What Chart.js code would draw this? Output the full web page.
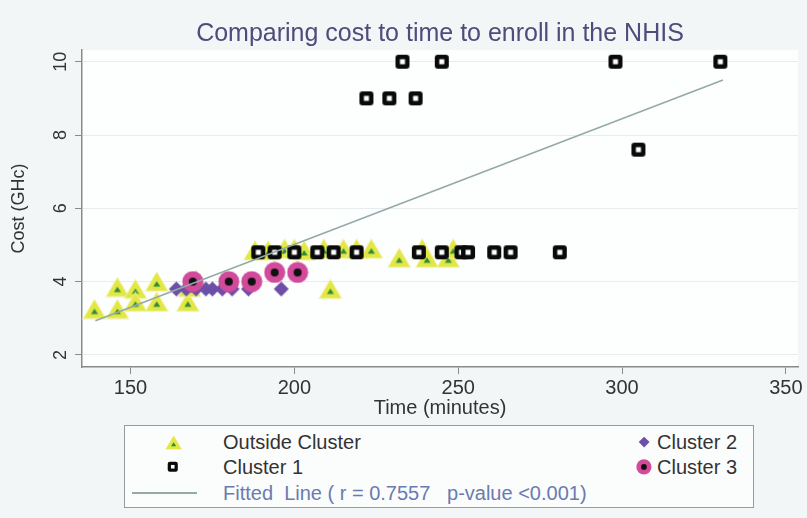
<!DOCTYPE html>
<html>
<head>
<meta charset="utf-8">
<script src="https://cdn.jsdelivr.net/npm/chart.js@4.4.0/dist/chart.umd.min.js"></script>
<style>
body { margin: 0; background: #f3f6f6; }
#wrap { position: relative; width: 807px; height: 518px; }
#titulo { position: absolute; left: 82px; width: 716px; top: 18px; text-align: center;
  font: 25px "Liberation Sans", Arial, sans-serif; color: #514a7c; }
#leyenda { position: absolute; left: 124px; top: 425px; width: 630px; height: 83px;
  border: 1px solid #9a9a9a; background: #fbfcfc; box-sizing: border-box;
  font: 20px "Liberation Sans", Arial, sans-serif; color: #333; }
.item { position: absolute; white-space: pre; line-height: 24px; }
.simbolo { position: absolute; }
</style>
</head>
<body>
<div id="wrap">
  <canvas id="grafica" width="807" height="518"></canvas>
  <div id="titulo">Comparing cost to time to enroll in the NHIS</div>
  <div id="leyenda"></div>
</div>
<script>
// datos
const ticksX = [150, 200, 250, 300, 350];
const ticksY = [2, 4, 6, 8, 10];

// fuera de cluster
const tiempoFuera = [139, 146, 146, 151.5, 151.5, 158, 158, 167.5, 168, 170, 211,
    188, 192, 197, 200, 203, 209, 215, 219, 223.5, 232, 239, 240.5, 247, 248.5];
const costoFuera = [3.25, 3.25, 3.85, 3.8, 3.45, 4.0, 3.45, 3.45, 3.85, 4.05, 3.8,
    4.85, 4.85, 4.9, 4.9, 4.85, 4.9, 4.9, 4.9, 4.9, 4.65, 4.9, 4.65, 4.65, 4.9];

// cluster 1
const tiempoC1 = [233, 245, 298, 330, 222, 229, 237, 305,
    189, 194, 200, 207, 212, 219, 238, 245, 251, 253, 261, 266, 281];
const costoC1 = [10, 10, 10, 10, 9, 9, 9, 7.6,
    4.8, 4.8, 4.8, 4.8, 4.8, 4.8, 4.8, 4.8, 4.8, 4.8, 4.8, 4.8, 4.8];

// cluster 2
const tiempoC2 = [164, 167, 170, 173, 175, 178, 181, 186, 196];
const costoC2 = [3.8, 3.8, 3.8, 3.8, 3.8, 3.8, 3.8, 3.8, 3.8];

// cluster 3
const tiempoC3 = [169, 180, 187, 194, 201];
const costoC3 = [4.0, 4.0, 4.0, 4.25, 4.25];

// linea ajustada
const lineaX = [139.3, 330.8];
const lineaY = [2.93, 9.5];

function puntos(xs, ys) {
    return xs.map(function(x, i) { return {x: x, y: ys[i]}; });
}

// dibuja el simbolo de cada grupo en un canvas pequeño (k = escala)
function simbolo(tipo, k) {
    k = k || 1;
    let c = document.createElement('canvas');
    let ctx;
    if (tipo === 'fuera') {
        c.width = Math.round(24 * k); c.height = Math.round(21 * k);
        ctx = c.getContext('2d');
        ctx.scale(k, k);
        ctx.fillStyle = '#eef3a6';
        ctx.beginPath(); ctx.moveTo(12, 0); ctx.lineTo(24, 20.5); ctx.lineTo(0, 20.5); ctx.closePath(); ctx.fill();
        ctx.fillStyle = '#e2e744';
        ctx.beginPath(); ctx.moveTo(12, 1.5); ctx.lineTo(22.5, 19.5); ctx.lineTo(1.5, 19.5); ctx.closePath(); ctx.fill();
        ctx.fillStyle = '#2f8c3c';
        ctx.beginPath(); ctx.moveTo(12, 10); ctx.lineTo(15.5, 15.5); ctx.lineTo(8.5, 15.5); ctx.closePath(); ctx.fill();
    } else if (tipo === 'c1') {
        c.width = Math.round(16 * k); c.height = Math.round(16 * k);
        ctx = c.getContext('2d');
        ctx.scale(k, k);
        ctx.fillStyle = '#0a0a0a';
        ctx.beginPath(); ctx.roundRect(1, 1, 14, 14, 3); ctx.fill();
        ctx.fillStyle = '#ffffff';
        ctx.fillRect(5.5, 5.5, 5, 5);
    } else if (tipo === 'c2') {
        c.width = Math.round(17 * k); c.height = Math.round(17 * k);
        ctx = c.getContext('2d');
        ctx.scale(k, k);
        ctx.fillStyle = '#6c4fa6';
        ctx.beginPath(); ctx.moveTo(8.5, 1); ctx.lineTo(16, 8.5); ctx.lineTo(8.5, 16); ctx.lineTo(1, 8.5); ctx.closePath(); ctx.fill();
    } else {
        c.width = Math.round(22 * k); c.height = Math.round(22 * k);
        ctx = c.getContext('2d');
        ctx.scale(k, k);
        ctx.fillStyle = '#d24a9c';
        ctx.beginPath(); ctx.arc(11, 11, 10.5, 0, Math.PI * 2); ctx.fill();
        ctx.fillStyle = '#111111';
        ctx.beginPath(); ctx.arc(11, 11, 4, 0, Math.PI * 2); ctx.fill();
    }
    return c;
}

const fondo = {
    id: 'fondo',
    beforeDraw: function(chart) {
        const ctx = chart.ctx;
        const a = chart.chartArea;
        ctx.save();
        ctx.fillStyle = '#f3f6f6';
        ctx.fillRect(0, 0, chart.width, chart.height);
        ctx.fillStyle = '#fdfefe';
        ctx.fillRect(a.left, a.top, a.right - a.left, a.bottom - a.top);
        ctx.restore();
    }
};

Chart.defaults.font.family = '"Liberation Sans", Arial, sans-serif';
Chart.defaults.color = '#333';

new Chart(document.getElementById('grafica'), {
    type: 'scatter',
    data: {
        datasets: [
            {
                label: 'Fitted Line',
                type: 'line',
                data: puntos(lineaX, lineaY),
                borderColor: '#93aaa8',
                borderWidth: 1.6,
                pointRadius: 0,
                showLine: true,
                order: 0
            },
            {
                label: 'Cluster 3',
                data: puntos(tiempoC3, costoC3),
                pointStyle: simbolo('c3'),
                pointRadius: 8,
                order: 1
            },
            {
                label: 'Cluster 2',
                data: puntos(tiempoC2, costoC2),
                pointStyle: simbolo('c2'),
                pointRadius: 8,
                order: 2
            },
            {
                label: 'Cluster 1',
                data: puntos(tiempoC1, costoC1),
                pointStyle: simbolo('c1'),
                pointRadius: 8,
                order: 3
            },
            {
                label: 'Outside Cluster',
                data: puntos(tiempoFuera, costoFuera),
                pointStyle: simbolo('fuera'),
                pointRadius: 8,
                order: 4
            }
        ]
    },
    options: {
        responsive: false,
        animation: false,
        events: [],
        layout: { padding: { left: 0, right: 9, top: 50, bottom: 0 } },
        plugins: {
            legend: { display: false },
            tooltip: { enabled: false }
        },
        scales: {
            x: {
                type: 'linear',
                min: 135.2,
                max: 353.7,
                afterBuildTicks: function(s) { s.ticks = ticksX.map(function(v) { return {value: v}; }); },
                afterFit: function(s) { s.height = 151; },
                grid: { drawOnChartArea: false, tickLength: 7, tickColor: '#8a8a8a' },
                border: { color: '#8a8a8a', width: 1.5 },
                ticks: { font: { size: 20 }, padding: 2, color: '#333' },
                title: { display: true, text: 'Time (minutes)', font: { size: 20 }, color: '#333',
                    padding: { top: 0, bottom: 98 } }
            },
            y: {
                type: 'linear',
                min: 1.67,
                max: 10.32,
                afterBuildTicks: function(s) { s.ticks = ticksY.map(function(v) { return {value: v}; }); },
                afterFit: function(s) { s.width = 82; },
                grid: { color: '#e8ecee', tickLength: 7, tickColor: '#8a8a8a' },
                border: { color: '#8a8a8a', width: 1.5 },
                ticks: { font: { size: 18 }, minRotation: 90, maxRotation: 90, crossAlign: 'center',
                    padding: 4, color: '#333' },
                title: { display: true, text: 'Cost (GHc)', font: { size: 18 }, color: '#333',
                    padding: { top: 8, bottom: 0 } }
            }
        }
    },
    plugins: [fondo]
});

// leyenda en html
const leyenda = document.getElementById('leyenda');
const itemsLeyenda = [
    { tipo: 'fuera', sx: 48, sy: 16, texto: 'Outside Cluster', tx: 98, color: '#333' },
    { tipo: 'c1', sx: 48, sy: 41, texto: 'Cluster 1', tx: 98, color: '#333' },
    { tipo: 'c2', sx: 519, sy: 16, texto: 'Cluster 2', tx: 532, color: '#333' },
    { tipo: 'c3', sx: 519, sy: 41, texto: 'Cluster 3', tx: 532, color: '#333' },
    { tipo: 'linea', sx: 7, sy: 67, texto: 'Fitted  Line ( r = 0.7557   p-value <0.001)', tx: 98, color: '#6a7bb0' }
];
itemsLeyenda.forEach(function(it) {
    if (it.tipo === 'linea') {
        let l = document.createElement('div');
        l.className = 'simbolo';
        l.style.left = it.sx + 'px';
        l.style.top = (it.sy - 1) + 'px';
        l.style.width = '65px';
        l.style.height = '2px';
        l.style.background = '#93aaa8';
        leyenda.appendChild(l);
    } else {
        let s = simbolo(it.tipo, 0.72);
        s.className = 'simbolo';
        s.style.left = (it.sx - s.width / 2) + 'px';
        s.style.top = (it.sy - s.height / 2) + 'px';
        leyenda.appendChild(s);
    }
    let t = document.createElement('div');
    t.className = 'item';
    t.style.left = it.tx + 'px';
    t.style.top = (it.sy - 12) + 'px';
    t.style.color = it.color;
    t.textContent = it.texto;
    leyenda.appendChild(t);
});
</script>
</body>
</html>
